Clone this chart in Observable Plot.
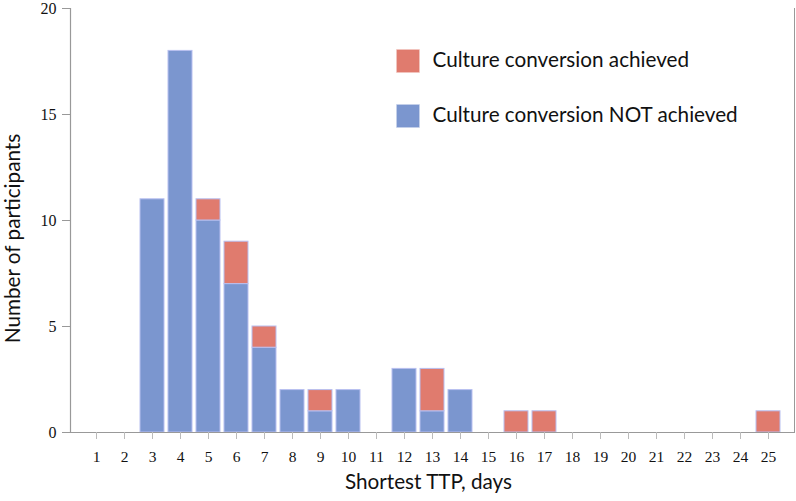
<!DOCTYPE html>
<html>
<head>
<meta charset="utf-8">
<script src="https://cdn.jsdelivr.net/npm/d3@7"></script>
<script src="https://cdn.jsdelivr.net/npm/@observablehq/plot@0.6"></script>
<style>
  html, body { margin: 0; padding: 0; background: #fff; }
  svg { display: block; }
</style>
</head>
<body>
<div id="chart"></div>
<script>
const days = [1,2,3,4,5,6,7,8,9,10,11,12,13,14,15,16,17,18,19,20,21,22,23,24,25];
const notAchieved = [0,0,11,18,10,7,4,2,1,2,0,3,1,2,0,0,0,0,0,0,0,0,0,0,0];
const achieved    = [0,0,0,0,1,2,1,0,1,0,0,0,2,0,0,1,1,0,0,0,0,0,0,0,1];
const seriesNames = ["Culture conversion NOT achieved", "Culture conversion achieved"];
const seriesColors = ["#7b96cf", "#e07b6e"];
const legendOrder = ["Culture conversion achieved", "Culture conversion NOT achieved"];
const yTicks = [0, 5, 10, 15, 20];
const xTitle = "Shortest TTP, days";
const yTitle = "Number of participants";

const rows = [];
days.forEach((d, i) => {
  rows.push({day: d, status: seriesNames[0], n: notAchieved[i]});
  rows.push({day: d, status: seriesNames[1], n: achieved[i]});
});

const sans = "Lato, 'Open Sans', sans-serif";
const serif = "'Liberation Serif', 'DejaVu Serif', serif";

const legendMarks = legendOrder.flatMap((name, i) => [
  Plot.dot([name], {
    frameAnchor: "top-left", dx: 337.5, dy: 52.5 + i * 55,
    symbol: "square", r: 12.4, fill: d => d, stroke: d => d, strokeOpacity: 0.6
  }),
  Plot.text([name], {
    frameAnchor: "top-left", dx: 362, dy: 51.5 + i * 55,
    text: d => d, textAnchor: "start", lineAnchor: "middle",
    fontFamily: sans, fontSize: 20.7, fill: "#111"
  })
]);

const chart = Plot.plot({
  width: 796,
  height: 501,
  marginTop: 8,
  marginBottom: 69,
  marginLeft: 70,
  marginRight: 2,
  insetLeft: 8,
  insetRight: 8,
  x: {type: "band", domain: days, padding: 0.13, align: 0.5},
  y: {domain: [0, 20], ticks: yTicks},
  color: {domain: seriesNames, range: seriesColors},
  marks: [
    Plot.barY(rows, {
      x: "day", y: "n", fill: "status",
      stroke: "#b8bff0", strokeWidth: 1
    }),
    Plot.ruleY([0], {stroke: "#999", strokeWidth: 1.2}),
    Plot.frame({anchor: "left", stroke: "#999", strokeWidth: 1.2}),
    Plot.frame({anchor: "right", stroke: "#999", strokeWidth: 1}),
    Plot.axisX({
      tickSize: 7, tickPadding: 11, stroke: "#bbb", label: null,
      fontFamily: serif, fontSize: 15.5, fill: "#111"
    }),
    Plot.axisY({
      ticks: yTicks, tickSize: 8, tickPadding: 6, stroke: "#999", label: null,
      fontFamily: serif, fontSize: 16, fill: "#111"
    }),
    Plot.text([xTitle], {
      frameAnchor: "bottom", dx: -4, dy: 56, text: d => d, fontFamily: sans, fontSize: 20.7, fill: "#111"
    }),
    Plot.text([yTitle], {
      frameAnchor: "left", dx: -57, dy: 18, rotate: -90, textAnchor: "middle", lineAnchor: "middle",
      text: d => d, fontFamily: sans, fontSize: 20.7, fill: "#111"
    }),
    ...legendMarks
  ]
});
document.getElementById("chart").appendChild(chart);
</script>
</body>
</html>
